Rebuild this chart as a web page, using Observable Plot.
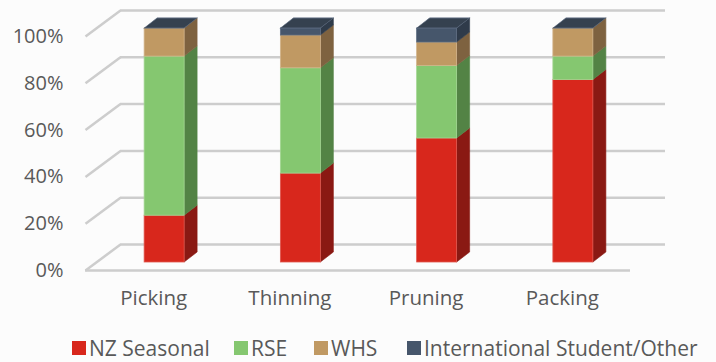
<!DOCTYPE html>
<html>
<head>
<meta charset="utf-8">
<script src="https://cdn.jsdelivr.net/npm/d3@7"></script>
<script src="https://cdn.jsdelivr.net/npm/@observablehq/plot@0.6"></script>
<style>
  html, body { margin: 0; padding: 0; background: #fcfcfc; }
  body { width: 716px; height: 362px; overflow: hidden; font-family: "Open Sans", sans-serif; }
  #chart svg { display: block; background: transparent; }
  #legend { position: relative; height: 36px; color: #595959; font-size: 21px; }
  #legend .item { position: absolute; top: 8px; display: flex; align-items: center; white-space: nowrap; }
  #legend .sw { width: 14px; height: 14px; margin-right: 3px; display: inline-block; }
</style>
</head>
<body>
<div id="chart"></div>
<div id="legend"></div>
<script>
// ---- data ----
const categories = ["Picking", "Thinning", "Pruning", "Packing"];
const seriesNames = ["NZ Seasonal", "RSE", "WHS", "International Student/Other"];
const nzSeasonal = [20, 38, 53, 78];
const rse = [68, 45, 31, 10];
const whs = [12, 14, 10, 12];
const intlOther = [0, 3, 6, 0];
const yTicks = [0, 20, 40, 60, 80, 100];

// ---- styles ----
const frontColors = ["#d8271c", "#85c770", "#c09963", "#46566b"];
const sideColors = ["#8a1913", "#538345", "#7e6240", "#2f3b4a"];
const edgeColors = ["#e0584f", "#a3d692", "#d2b48a", "#5d6d82"];
const topColor = "#35414f";
const gridColor = "#cdcdcd";
const textColor = "#595959";
const legendLeft = [72, 234, 314, 407];

const W = 716, H = 326;
const mL = 85, mR = 86, mT = 36, floorY = 270;
const pxPerX = (W - mL - mR) / categories.length;
const pxPerY = (floorY - mT) / 100;
const HW = 20 / pxPerX;          // half bar width
const SIDE_X = 13 / pxPerX;      // side face depth
const TOP_Y = 10 / pxPerY;       // top face depth
const BAR_DX = 11, BAR_DY = -8;  // bar plane offset
const WALL_DX = 35, WALL_DY = -26;

const valuesBySeries = [nzSeasonal, rse, whs, intlOther];
const rows = [];
categories.forEach((cat, i) => {
  let cum = 0;
  seriesNames.forEach((s, k) => {
    const v = valuesBySeries[k][i];
    rows.push({cat, i, k, series: s, y1: cum, y2: cum + v,
      front: frontColors[k], side: sideColors[k], edge: edgeColors[k]});
    cum += v;
  });
});
const totals = categories.map((cat, i) => ({cat, i,
  total: valuesBySeries.reduce((a, arr) => a + arr[i], 0)}));

const plot = Plot.plot({
  width: W, height: H,
  marginLeft: mL, marginRight: mR, marginTop: mT, marginBottom: H - floorY,
  x: {domain: [0, categories.length], axis: null},
  y: {domain: [0, 100], axis: null},
  color: {type: "identity"},
  style: {background: "transparent", fontFamily: "'Open Sans', sans-serif"},
  marks: [
    // back wall gridlines
    Plot.ruleY(yTicks, {stroke: gridColor, strokeWidth: 2.5, dx: WALL_DX, dy: WALL_DY}),
    // left diagonals
    Plot.link(yTicks, {x1: 0, y1: d => d, x2: WALL_DX / pxPerX, y2: d => d - WALL_DY / pxPerY,
      stroke: gridColor, strokeWidth: 2.5}),
    // floor front edge
    Plot.ruleY([0], {stroke: gridColor, strokeWidth: 2.5}),
    // side faces
    Plot.rectY(rows, {x1: d => d.i + 0.5 + HW, x2: d => d.i + 0.5 + HW + SIDE_X,
      y1: "y1", y2: "y2", fill: "side", stroke: "side", strokeWidth: 0.5,
      dx: BAR_DX, dy: BAR_DY}),
    // front faces
    Plot.rectY(rows, {x1: d => d.i + 0.5 - HW, x2: d => d.i + 0.5 + HW,
      y1: "y1", y2: "y2", fill: "front", stroke: "edge", strokeWidth: 0.8,
      dx: BAR_DX, dy: BAR_DY}),
    // top faces
    Plot.rectY(totals, {x1: d => d.i + 0.5 - HW, x2: d => d.i + 0.5 + HW,
      y1: "total", y2: d => d.total + TOP_Y, fill: topColor, stroke: "#56657a", strokeWidth: 0.8,
      dx: BAR_DX, dy: BAR_DY}),
    // y tick labels
    Plot.text(yTicks, {x: 0, y: d => d, text: d => d + "%", textAnchor: "end", dx: -22,
      fill: textColor, fontSize: 20}),
    // x labels
    Plot.text(totals, {x: d => d.i + 0.5, y: 0, text: "cat", dy: 28, fill: textColor, fontSize: 20.5})
  ]
});

const groups = d3.select(plot).selectAll('g[aria-label="rect"]').nodes();
// order: side, front, top
d3.select(groups[0]).selectAll("rect")
  .style("transform-box", "fill-box")
  .style("transform-origin", "0 0")
  .style("transform", "skewY(" + (-Math.atan(10 / 13) * 180 / Math.PI) + "deg)");
d3.select(groups[2]).selectAll("rect")
  .style("transform-box", "fill-box")
  .style("transform-origin", "0 100%")
  .style("transform", "skewX(" + (-Math.atan(13 / 10) * 180 / Math.PI) + "deg)");

document.getElementById("chart").appendChild(plot);

const legend = d3.select("#legend");
seriesNames.forEach((s, k) => {
  const item = legend.append("div").attr("class", "item").style("left", legendLeft[k] + "px");
  item.append("span").attr("class", "sw").style("background", frontColors[k]);
  item.append("span").text(s);
});
</script>
</body>
</html>
